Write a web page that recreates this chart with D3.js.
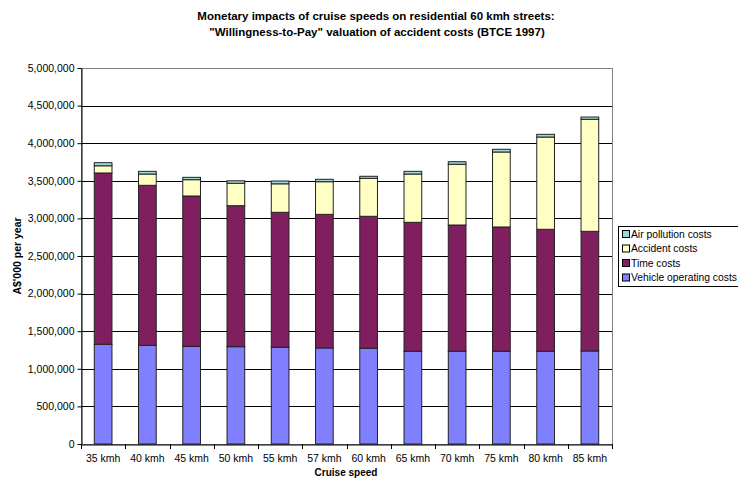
<!DOCTYPE html>
<html>
<head>
<meta charset="utf-8">
<script src="https://cdn.jsdelivr.net/npm/d3@7"></script>
<style>
  html, body { margin: 0; padding: 0; background: #fff; }
  svg { display: block; font-family: "Liberation Sans", Arial, sans-serif; }
</style>
</head>
<body>
<svg id="chart" width="738" height="479"></svg>
<script>
const categories = ["35 kmh","40 kmh","45 kmh","50 kmh","55 kmh","57 kmh","60 kmh","65 kmh","70 kmh","75 kmh","80 kmh","85 kmh"];
const vehicleCosts  = [1326000,1312000,1299000,1294000,1286000,1277000,1273000,1233000,1233000,1233000,1233000,1237000];
const timeCosts     = [2278000,2128000,1999000,1875000,1795000,1777000,1755000,1715000,1679000,1653000,1622000,1591000];
const accidentCosts = [96000,150000,217000,298000,379000,434000,505000,642000,808000,997000,1227000,1490000];
const airCosts      = [41000,36000,31000,33000,37000,32000,27000,36000,34000,36000,36000,30000];
const seriesNames   = ["Vehicle operating costs","Time costs","Accident costs","Air pollution costs"];
const seriesColors  = ["#8080FF","#7F1F5F","#FFFFC4","#9ED8D8"];
const yTicks = [0,500000,1000000,1500000,2000000,2500000,3000000,3500000,4000000,4500000,5000000];

(function () {
const svg = d3.select("#chart");
const pLeft = 81, pRight = 612, pTop = 68, pBottom = 444;
const font = "Liberation Sans, Arial, sans-serif";

const rows = categories.map((c,i) => ({cat:c, s0:vehicleCosts[i], s1:timeCosts[i], s2:accidentCosts[i], s3:airCosts[i]}));
const stack = d3.stack().keys(["s0","s1","s2","s3"])(rows);

const x = d3.scaleBand().domain(categories).range([pLeft, pRight]).paddingInner(0.6).paddingOuter(0.3);
const y = d3.scaleLinear().domain([0, 5000000]).range([pBottom, pTop]);

// plot area border
svg.append("rect").attr("x", pLeft + 0.5).attr("y", pTop + 0.5).attr("width", pRight-pLeft).attr("height", pBottom-pTop)
  .attr("fill", "#fff").attr("stroke", "#808080").attr("stroke-width", 1);

// gridlines
svg.append("g").selectAll("line").data(yTicks.filter(d => d > 0 && d < 5000000)).join("line")
  .attr("x1", pLeft).attr("x2", pRight)
  .attr("y1", d => Math.round(y(d))+0.5).attr("y2", d => Math.round(y(d))+0.5)
  .attr("stroke", "#000").attr("stroke-width", 1);

// bars
const g = svg.append("g");
stack.forEach((layer, k) => {
  g.append("g").selectAll("rect").data(layer).join("rect")
    .attr("x", d => x(d.data.cat))
    .attr("y", d => y(d[1]))
    .attr("width", x.bandwidth())
    .attr("height", d => y(d[0]) - y(d[1]))
    .attr("fill", seriesColors[k])
    .attr("stroke", "#222")
    .attr("stroke-width", 1);
});

// y axis
const yAxis = d3.axisLeft(y).tickValues(yTicks).tickSize(4).tickSizeOuter(0).tickPadding(3)
  .tickFormat(d3.format(",.0f"));
const ya = svg.append("g").attr("transform", `translate(${pLeft+0.5},0)`).call(yAxis);
ya.select(".domain").attr("stroke", "#000");
ya.selectAll(".tick line").attr("stroke", "#000");
ya.selectAll(".tick text").attr("font-size", 10.5).attr("fill", "#000").attr("font-family", font);

// x axis
const xAxis = d3.axisBottom(x).tickSize(0).tickPadding(10);
const xa = svg.append("g").attr("transform", `translate(0,${pBottom+0.5})`).call(xAxis);
xa.select(".domain").attr("stroke", "#000");
xa.selectAll(".tick text").attr("font-size", 10.5).attr("fill", "#000").attr("font-family", font);
// Excel-style ticks at category boundaries
const boundaries = d3.range(categories.length + 1).map(i => pLeft + i * (pRight-pLeft) / categories.length);
svg.append("g").selectAll("line").data(boundaries).join("line")
  .attr("x1", d => Math.round(d)+0.5).attr("x2", d => Math.round(d)+0.5)
  .attr("y1", pBottom).attr("y2", pBottom + 5)
  .attr("stroke", "#000");

// titles
svg.append("text").attr("x", 376).attr("y", 20).attr("text-anchor", "middle")
  .attr("font-size", 11.5).attr("font-weight", "bold")
  .text("Monetary impacts of cruise speeds on residential 60 kmh streets:");
svg.append("text").attr("x", 377).attr("y", 36).attr("text-anchor", "middle")
  .attr("font-size", 11.5).attr("font-weight", "bold")
  .text("\"Willingness-to-Pay\" valuation of accident costs (BTCE 1997)");

svg.append("text").attr("transform", "translate(21,256) rotate(-90)").attr("text-anchor", "middle")
  .attr("font-size", 10.5).attr("font-weight", "bold").text("A$'000 per year");
svg.append("text").attr("x", 346).attr("y", 476).attr("text-anchor", "middle")
  .attr("font-size", 10).attr("font-weight", "bold").text("Cruise speed");

// legend
const lg = svg.append("g");
lg.append("rect").attr("x", 618.5).attr("y", 226.5).attr("width", 130).attr("height", 60)
  .attr("fill", "#fff").attr("stroke", "#000");
const legendOrder = [3,2,1,0];
legendOrder.forEach((k, i) => {
  const yy = 234 + i * 14.5;
  lg.append("rect").attr("x", 622.5).attr("y", yy - 3.5).attr("width", 7).attr("height", 7)
    .attr("fill", seriesColors[k]).attr("stroke", "#000");
  lg.append("text").attr("x", 631).attr("y", yy + 3.5).attr("font-size", 10.3).attr("fill", "#000")
    .text(seriesNames[k]);
});
})();
</script>
</body>
</html>
